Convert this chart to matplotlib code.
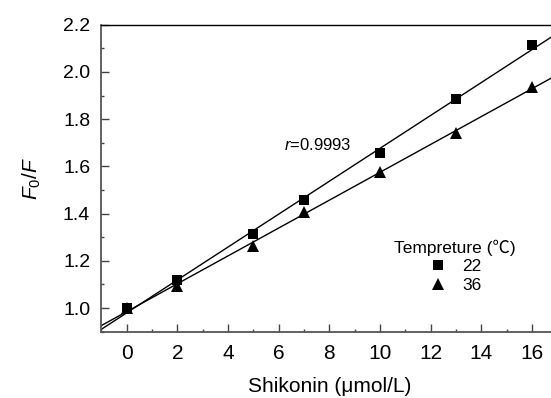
import numpy as np
import matplotlib
matplotlib.use("Agg")
import matplotlib.pyplot as plt
from matplotlib.ticker import MultipleLocator, FormatStrFormatter

plt.rcParams['font.family'] = ['Liberation Sans', 'DejaVu Sans']
plt.rcParams['mathtext.fontset'] = 'custom'
plt.rcParams['mathtext.rm'] = 'Liberation Sans'
plt.rcParams['mathtext.it'] = 'Liberation Sans:italic'

# Shikonin concentration (µmol/L) and F0/F quenching ratios at two temperatures
conc = [0, 2, 5, 7, 10, 13, 16]
ratio_22 = [1.00, 1.12, 1.315, 1.458, 1.658, 1.886, 2.114]
ratio_36 = [1.00, 1.093, 1.264, 1.407, 1.578, 1.743, 1.937]
temps = ["22", "36"]
r_label = "0.9993"

W, H = 551, 398
fig = plt.figure(figsize=(W / 100, H / 100), dpi=100)
left, right, top, bottom = 101.3, 557.4, 24.7, 331.7
ax = fig.add_axes([left / W, 1 - bottom / H, (right - left) / W, (bottom - top) / H])

xlim = (-1, 17)
ax.set_xlim(*xlim)
ax.set_ylim(0.9, 2.2)

xx = np.array(xlim, dtype=float)
handles = []
for vals, mk, ms, lab in [(ratio_22, 's', 6.5, temps[0]), (ratio_36, '^', 8.4, temps[1])]:
    k, b = np.polyfit(conc, vals, 1)
    ax.plot(xx, k * xx + b, color='black', lw=1.0, zorder=2)
    h, = ax.plot(conc, vals, linestyle='none', marker=mk, ms=ms, color='black',
                 markeredgewidth=0, zorder=3, label=lab)
    handles.append(h)

ax.text(6.2, 1.689, r"$\it{r}$=" + r_label, fontsize=12, ha='left', va='center')

ax.xaxis.set_major_locator(MultipleLocator(2))
ax.xaxis.set_minor_locator(MultipleLocator(1))
ax.yaxis.set_major_locator(MultipleLocator(0.2))
ax.yaxis.set_minor_locator(MultipleLocator(0.1))
ax.tick_params(which='both', direction='in', top=False, right=False, width=1.0,
               color='#444444')
ax.tick_params(which='major', length=6)
ax.tick_params(which='minor', length=2.5)
ax.tick_params(axis='x', labelsize=15, pad=9)
ax.tick_params(axis='y', labelsize=14, pad=8)
ax.set_xticks(range(0, 17, 2))
ax.yaxis.set_major_formatter(FormatStrFormatter('%.1f'))

ax.spines['top'].set_linewidth(1.0)
for s in ['left', 'bottom']:
    ax.spines[s].set_linewidth(1.3)
    ax.spines[s].set_color('#555555')
ax.spines['right'].set_visible(False)

ax.set_xlabel("Shikonin (μmol/L)", fontsize=15, labelpad=10)
ax.set_ylabel(r"$\it{F}_{\it{0}}/\it{F}$", fontsize=15, labelpad=14)

leg = ax.legend(handles=handles, title="Tempreture (℃)", loc='center',
                bbox_to_anchor=((455 - left) / (right - left), 1 - (266 - top) / (bottom - top)),
                frameon=False, fontsize=12.5, title_fontsize=12.5,
                handletextpad=0.9, labelspacing=0.2, handlelength=1.0,
                borderpad=0.0)
leg.get_title().set_family(['Liberation Sans', 'Noto Sans CJK SC'])

fig.savefig("out.png", dpi=100)
